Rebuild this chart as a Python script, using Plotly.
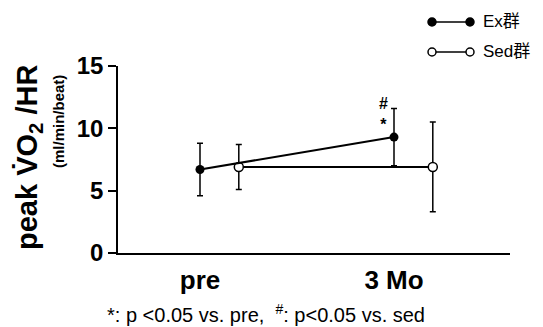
import plotly.graph_objects as go

# Data: peak VO2/HR (ml/min/beat), mean ± SD
timepoints = ["pre", "3 Mo"]
ex_mean = [6.7, 9.3]
ex_sd = [2.1, 2.3]
sed_mean = [6.9, 6.9]
sed_sd = [1.8, 3.6]
y_ticks = [0, 5, 10, 15]

FONT = "Liberation Sans, Arial, Noto Sans CJK JP, sans-serif"
W, H = 543, 327
L, R, T, B = 118, 33, 66, 74
PW, PH = W - L - R, H - T - B

def px(xp):
    return (xp - L) / PW

def py(yp):
    return (H - B - yp) / PH

x_pos = list(range(len(timepoints)))
sed_offset = 0.2
x_sed = [x + sed_offset for x in x_pos]

fig = go.Figure()

fig.add_trace(go.Scatter(
    x=x_sed, y=sed_mean, mode="lines+markers",
    line=dict(color="black", width=2),
    marker=dict(symbol="circle", size=9, color="white",
                line=dict(color="black", width=1.5)),
    error_y=dict(type="data", array=sed_sd, color="black", thickness=1.5, width=3),
    showlegend=False, cliponaxis=False,
))
fig.add_trace(go.Scatter(
    x=x_pos, y=ex_mean, mode="lines+markers",
    line=dict(color="black", width=2),
    marker=dict(symbol="circle", size=9, color="black"),
    error_y=dict(type="data", array=ex_sd, color="black", thickness=1.5, width=3),
    showlegend=False, cliponaxis=False,
))

# significance marks above the exercise group at 3 Mo
fig.add_annotation(x=x_pos[1], y=ex_mean[1], xref="x", yref="y",
                   text="<b>#</b><br><b>*</b>", showarrow=False,
                   font=dict(family=FONT, size=16, color="black"),
                   xanchor="center", yanchor="bottom", xshift=-11, yshift=2)

# y-axis titles
fig.add_annotation(x=px(29), y=py(158), xref="paper", yref="paper",
                   text="<b>peak V\u0307O<sub>2</sub> /HR</b>", textangle=-90,
                   showarrow=False, xanchor="center", yanchor="middle",
                   font=dict(family=FONT, size=29, color="black"))
fig.add_annotation(x=px(58), y=py(122), xref="paper", yref="paper",
                   text="<b>(ml/min/beat)</b>", textangle=-90,
                   showarrow=False, xanchor="center", yanchor="middle",
                   font=dict(family=FONT, size=15, color="black"))

# footnote
fig.add_annotation(x=px(266), y=py(313), xref="paper", yref="paper",
                   text="*: p <0.05 vs. pre,  "
                        "<sup>#</sup>: p<0.05 vs. sed",
                   showarrow=False, xanchor="center", yanchor="middle",
                   font=dict(family=FONT, size=20, color="black"))

# legend
legend_items = [("Ex群", "black", 22), ("Sed群", "white", 52)]
x0, x1, r = 432, 470, 4
for label, fill, yy in legend_items:
    fig.add_shape(type="line", xref="paper", yref="paper",
                  x0=px(x0), x1=px(x1), y0=py(yy), y1=py(yy),
                  line=dict(color="black", width=1.5))
    for cx in (x0, x1):
        fig.add_shape(type="circle", xref="paper", yref="paper",
                      x0=px(cx - r), x1=px(cx + r), y0=py(yy + r), y1=py(yy - r),
                      fillcolor=fill, line=dict(color="black", width=1.5))
    fig.add_annotation(x=px(481), y=py(yy), xref="paper", yref="paper",
                       text=label, showarrow=False, xanchor="left", yanchor="middle",
                       font=dict(family=FONT, size=17, color="black"))

fig.update_xaxes(
    range=[(L - 200) / 194, (W - R - 200) / 194],
    tickvals=x_pos, ticktext=[f"<b>{t}</b>" for t in timepoints],
    ticks="", showgrid=False, zeroline=False,
    showline=True, linecolor="black", linewidth=2,
    ticklabelstandoff=3,
    tickfont=dict(family=FONT, size=26, color="black"),
)
fig.update_yaxes(
    range=[0, 15], tickvals=y_ticks, ticktext=[f"<b>{v}</b>" for v in y_ticks],
    ticks="outside", ticklen=8, tickwidth=1.5, tickcolor="black",
    showgrid=False, zeroline=False,
    showline=True, linecolor="black", linewidth=1.5,
    tickfont=dict(family=FONT, size=24, color="black"),
)

fig.update_layout(
    width=W, height=H,
    margin=dict(l=L, r=R, t=T, b=B),
    paper_bgcolor="white", plot_bgcolor="white",
    showlegend=False,
)

fig.write_html("out.html")
